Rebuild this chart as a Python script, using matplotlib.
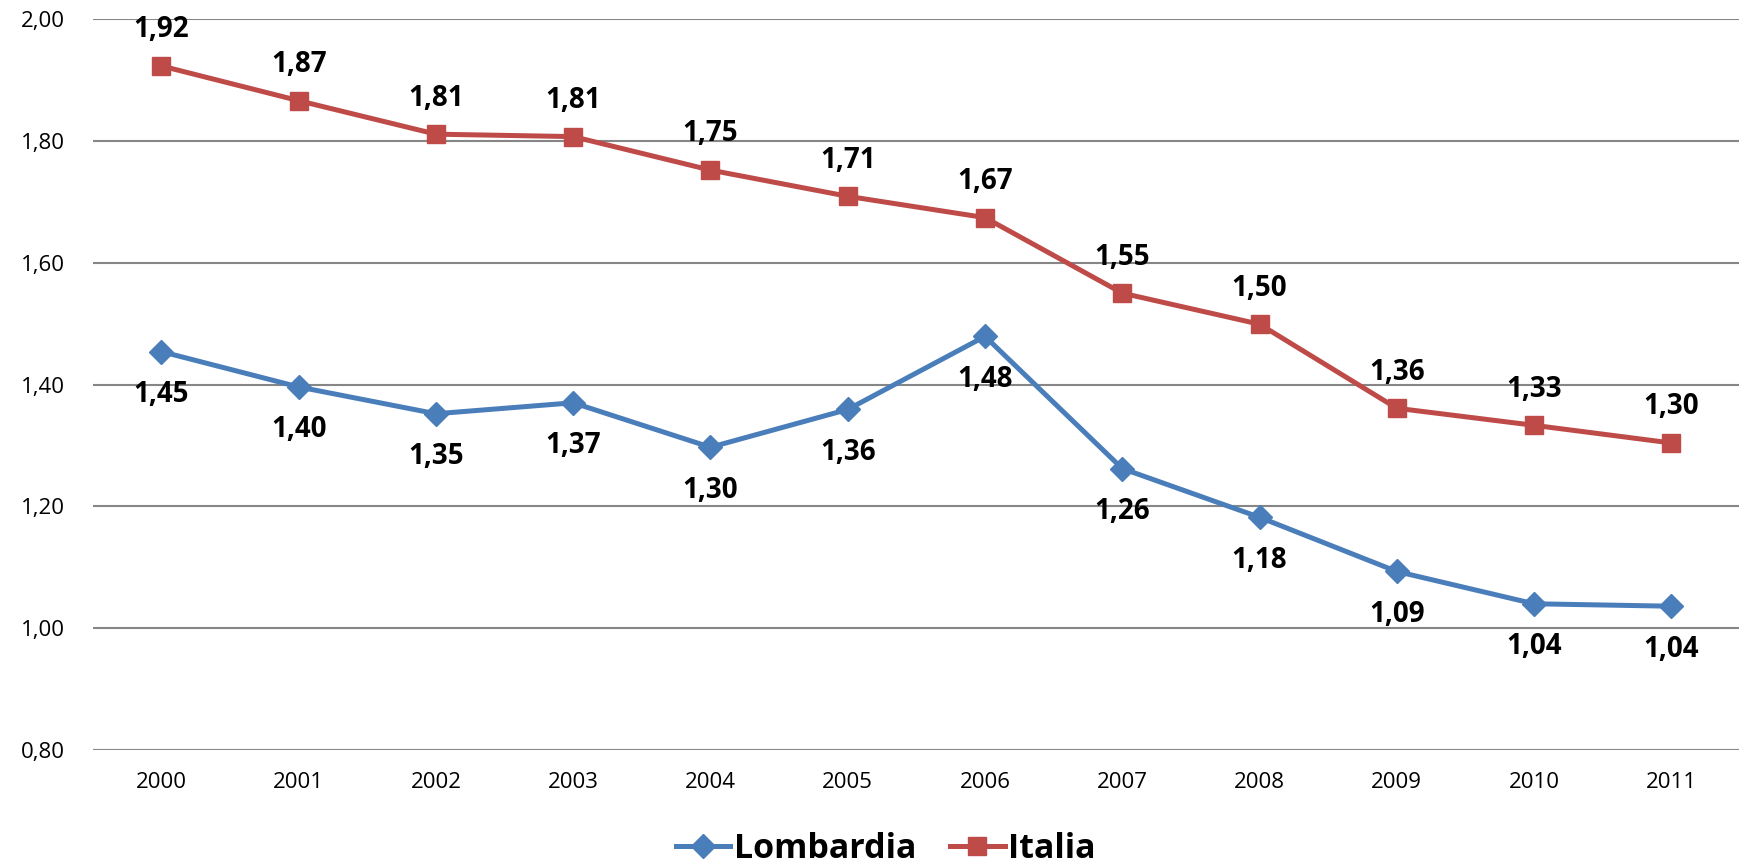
import matplotlib
matplotlib.use("Agg")
import matplotlib.pyplot as plt
from matplotlib.lines import Line2D

years = ["2000", "2001", "2002", "2003", "2004", "2005", "2006", "2007", "2008", "2009", "2010", "2011"]
lombardia = [1.454, 1.396, 1.352, 1.370, 1.297, 1.359, 1.479, 1.262, 1.182, 1.093, 1.040, 1.036]
italia = [1.923, 1.866, 1.811, 1.807, 1.752, 1.709, 1.674, 1.550, 1.499, 1.361, 1.333, 1.304]
yticks = [0.80, 1.00, 1.20, 1.40, 1.60, 1.80, 2.00]

BLUE = "#4A7EBB"
RED = "#BE4B48"
FONT = ["Open Sans", "DejaVu Sans"]
plt.rcParams['font.family'] = FONT

fig = plt.figure(figsize=(17.4, 8.66), dpi=100)
ax = fig.add_axes([0.0533, 0.134, 0.9467, 0.978 - 0.134])
x = list(range(len(years)))

ax.plot(x, lombardia, color=BLUE, lw=3.6, marker="D", ms=12, zorder=3, label="Lombardia")
ax.plot(x, italia, color=RED, lw=3.6, marker="s", ms=13.5, zorder=3, label="Italia")

def fmt(v):
    return f"{v:.2f}".replace(".", ",")

for xi, v in zip(x, lombardia):
    ax.annotate(fmt(v), (xi, v), xytext=(0, -31), textcoords="offset points",
                ha="center", va="center", fontsize=20, fontweight="bold")
for xi, v in zip(x, italia):
    ax.annotate(fmt(v), (xi, v), xytext=(0, 26), textcoords="offset points",
                ha="center", va="center", fontsize=20, fontweight="bold")

ax.set_xlim(-0.5, len(years) - 0.5)
ax.set_ylim(0.8, 2.0)
ax.set_yticks(yticks)
ax.set_yticklabels([fmt(t) for t in yticks], fontsize=16)
ax.set_xticks(x)
ax.set_xticklabels(years, fontsize=16)
ax.tick_params(axis="both", length=0)
ax.tick_params(axis="y", pad=20)
ax.tick_params(axis="x", pad=16)
ax.grid(axis="y", color="#868686", lw=1.5)
ax.set_axisbelow(True)
for s in ax.spines.values():
    s.set_visible(False)

handles = [Line2D([], [], color=BLUE, lw=3.6, marker="D", ms=12),
           Line2D([], [], color=RED, lw=3.6, marker="s", ms=13.5)]
leg = fig.legend(handles, ["Lombardia", "Italia"], loc="center", bbox_to_anchor=(0.509, 0.02),
                 ncol=2, frameon=False, prop={"family": FONT, "weight": "bold", "size": 24.5},
                 handlelength=1.6, handletextpad=0.1, columnspacing=1.0)

fig.savefig("out.png", dpi=100)
